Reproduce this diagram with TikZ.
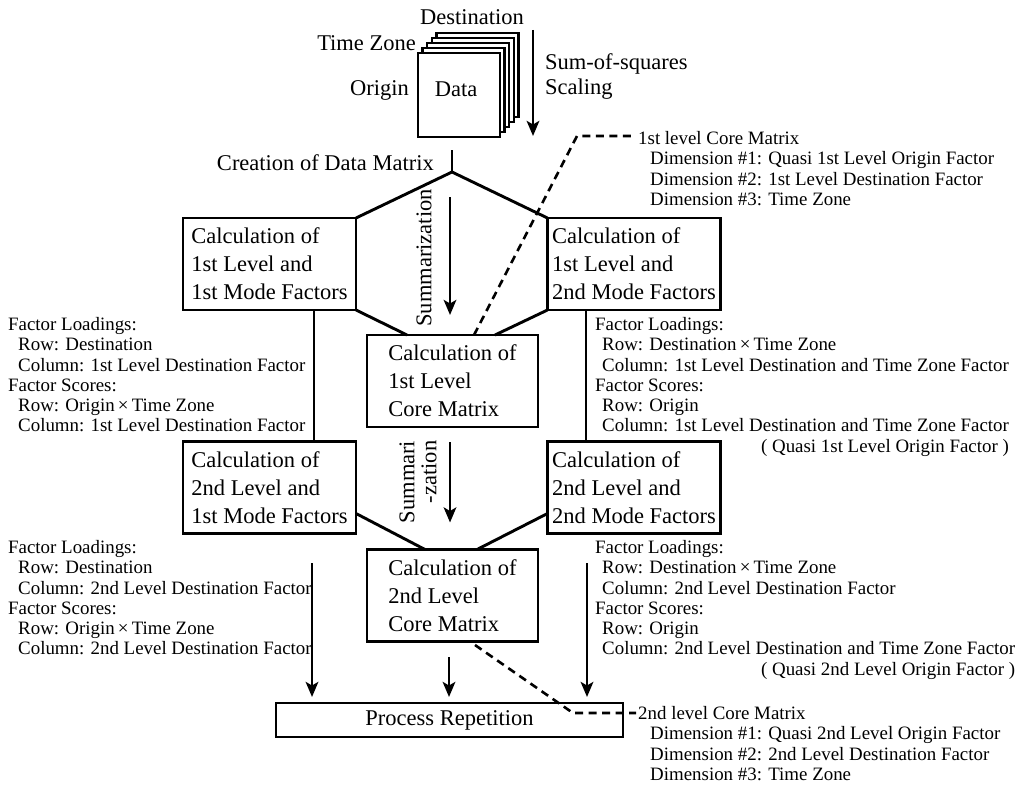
\documentclass[tikz,border=0pt]{standalone}
\usepackage{fontspec}
\setmainfont{Liberation Serif}
\usetikzlibrary{arrows.meta,calc}
\newcommand\bigtxt{\fontsize{22.5}{28}\selectfont}
\newcommand\midtxt{\fontsize{22.5}{25}\selectfont}
\newcommand\smalltxt{\fontsize{18.9}{20.3}\selectfont}
\tikzset{
  ln/.style={line width=2.9pt},
  arr/.style={line width=2.9pt,-{Stealth[length=15pt,width=12.5pt,inset=3.5pt]}},
  dsh/.style={line width=2.6pt,dash pattern=on 8pt off 5.5pt},
  box/.style={draw,line width=2.9pt,rectangle,inner sep=0pt,outer sep=0pt,align=left,font=\bigtxt},
  sidebox/.style={box,minimum width=173pt,minimum height=92pt},
  corebox/.style={box,minimum width=171pt,minimum height=92pt},
  lbl/.style={font=\bigtxt,inner sep=0pt},
  txt/.style={font=\smalltxt,inner sep=0pt,anchor=north west},
}
\begin{document}
\begin{tikzpicture}[x=1pt,y=-1pt]
\useasboundingbox (0,0) rectangle (1024,784);
\fill[white] (0,0) rectangle (1024,784);

% data stack
\foreach \k in {4,3,2,1}{
  \draw[line width=2.5pt,fill=white] (418+4.6*\k,53-5*\k) rectangle ++(82,84);
}
\node[draw,line width=2.5pt,fill=white,minimum width=82pt,minimum height=84pt,inner sep=0pt,outer sep=0pt] (data) at (459,95) {};
\node[lbl,anchor=base] (datatxt) at (456,96) {Data};
\node[lbl,anchor=base] (dest) at (472,24.5) {Destination};
\node[lbl,anchor=base east] (tz) at (416,50.5) {Time Zone};
\node[lbl,anchor=base east] (orig) at (409,95.5) {Origin};

\coordinate (ss1) at (533,30);
\coordinate (ss2) at (533,136);
\draw[arr] (ss1) -- (ss2);
\node[lbl,anchor=north west,font=\midtxt] (sumsq) at (545,52) {\begin{tabular}{@{}l@{}}Sum-of-squares\\Scaling\end{tabular}};

\node[lbl,anchor=base east] (create) at (434,170.5) {Creation of Data Matrix};
\coordinate (tick) at (452,150);
\coordinate (top) at (452,172);

% boxes
\node[sidebox] (lb1) at (269.5,264) {Calculation of\\1st Level and\\1st Mode Factors};
\node[sidebox] (rb1) at (634,264) {Calculation of\\1st Level and\\2nd Mode Factors};
\node[corebox] (cb1) at (452.5,381) {Calculation of\\1st Level\\Core Matrix};
\node[sidebox] (lb2) at (269.5,487.5) {Calculation of\\2nd Level and\\1st Mode Factors};
\node[sidebox] (rb2) at (634,487.5) {Calculation of\\2nd Level and\\2nd Mode Factors};
\node[corebox] (cb2) at (452.5,595.5) {Calculation of\\2nd Level\\Core Matrix};
\node[box,minimum width=347pt,minimum height=34pt] (pr) at (449.5,720) {Process Repetition};

% hexagon connectors
\draw[ln] (tick) -- (top);
\draw[ln] (top) -- (lb1.north east);
\draw[ln] (top) -- (rb1.north west);
\draw[ln] (lb1.south east) -- ([xshift=40pt]cb1.north west);
\draw[ln] (rb1.south west) -- ([xshift=-43pt]cb1.north east);
\draw[ln] ([yshift=20pt]lb2.south east) -- ([xshift=58pt]cb2.north west);
\draw[ln] ([yshift=20pt]rb2.south west) -- ([xshift=-61pt]cb2.north east);

% verticals between levels
\draw[ln] ([xshift=44.5pt]lb1.south) -- ([xshift=44.5pt]lb2.north);
\draw[ln] ([xshift=-48pt]rb1.south) -- ([xshift=-48pt]rb2.north);

% summarization arrows
\coordinate (s1a) at (450,197);
\draw[arr] (s1a) -- ([yshift=20pt]cb1.north -| s1a);
\node[lbl,rotate=90] (summ1) at (424,258) {Summarization};
\coordinate (s2a) at (450,442);
\draw[arr] (s2a) -- ([yshift=27pt]cb2.north -| s2a);
\node[lbl,rotate=90,font=\fontsize{22.5}{22}\selectfont] (summ2) at (421,482) {\begin{tabular}{@{}r@{}}Summari\\-zation\end{tabular}};

% arrows to process repetition
\coordinate (la) at (312,563);
\coordinate (ra) at (587,563);
\coordinate (ma) at (449,657);
\draw[arr,shorten >=6pt] (la) -- (la |- pr.north);
\draw[arr,shorten >=6pt] (ra) -- (ra |- pr.north);
\draw[arr,shorten >=6pt] (ma) -- (ma |- pr.north);

% dashed leaders
\coordinate (d1b) at (577,136);
\coordinate (d1c) at (636,136);
\draw[dsh] ([xshift=107pt]cb1.north west) -- (d1b) -- (d1c);
\coordinate (d2a) at (475,645);
\coordinate (d2b) at (573,713);
\coordinate (d2c) at (636,713);
\draw[dsh] (d2a) -- (d2b) -- (d2c);

% text blocks
\node[txt] (core1) at (638,130) {\begin{tabular}{@{}l@{}}1st level Core Matrix\\
\hspace*{12pt}Dimension \#1: Quasi 1st Level Origin Factor\\
\hspace*{12pt}Dimension \#2: 1st Level Destination Factor\\
\hspace*{12pt}Dimension \#3: Time Zone\end{tabular}};

\node[txt] (core2) at (638,705) {\begin{tabular}{@{}l@{}}2nd level Core Matrix\\
\hspace*{12pt}Dimension \#1: Quasi 2nd Level Origin Factor\\
\hspace*{12pt}Dimension \#2: 2nd Level Destination Factor\\
\hspace*{12pt}Dimension \#3: Time Zone\end{tabular}};

\node[txt] (lc1) at (8,316) {\begin{tabular}{@{}l@{}}Factor Loadings:\\
\hspace*{10pt}Row: Destination\\
\hspace*{10pt}Column: 1st Level Destination Factor\\
Factor Scores:\\
\hspace*{10pt}Row: Origin\,×\,Time Zone\\
\hspace*{10pt}Column: 1st Level Destination Factor\end{tabular}};

\node[txt] (lc2) at (8,539) {\begin{tabular}{@{}l@{}}Factor Loadings:\\
\hspace*{10pt}Row: Destination\\
\hspace*{10pt}Column: 2nd Level Destination Factor\\
Factor Scores:\\
\hspace*{10pt}Row: Origin\,×\,Time Zone\\
\hspace*{10pt}Column: 2nd Level Destination Factor\end{tabular}};

\node[txt] (rc1) at (595,316) {\begin{tabular}{@{}l@{}}Factor Loadings:\\
\hspace*{7pt}Row: Destination\,×\,Time Zone\\
\hspace*{7pt}Column: 1st Level Destination and Time Zone Factor\\
Factor Scores:\\
\hspace*{7pt}Row: Origin\\
\hspace*{7pt}Column: 1st Level Destination and Time Zone Factor\\
\multicolumn{1}{@{}r@{}}{( Quasi 1st Level Origin Factor )}\end{tabular}};

\node[txt] (rc2) at (595,539) {\begin{tabular}{@{}l@{}}Factor Loadings:\\
\hspace*{7pt}Row: Destination\,×\,Time Zone\\
\hspace*{7pt}Column: 2nd Level Destination Factor\\
Factor Scores:\\
\hspace*{7pt}Row: Origin\\
\hspace*{7pt}Column: 2nd Level Destination and Time Zone Factor\\
\multicolumn{1}{@{}r@{}}{( Quasi 2nd Level Origin Factor )}\end{tabular}};
\end{tikzpicture}
\end{document}
